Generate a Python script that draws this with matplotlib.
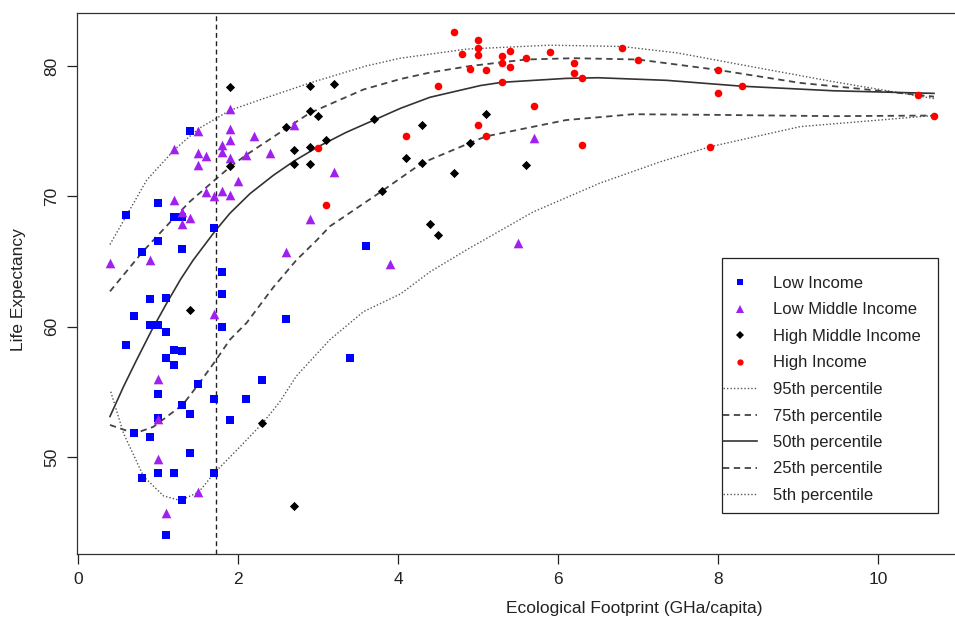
import matplotlib
matplotlib.use("Agg")
import matplotlib.pyplot as plt
from matplotlib.lines import Line2D
from matplotlib.patches import Rectangle

plt.rcParams['font.family'] = ['Liberation Sans', 'DejaVu Sans']

# ---------------- data ----------------
low_x = [1.4, 0.6, 1.0, 1.2, 1.3, 1.7, 1.0, 0.8, 1.3, 1.8, 1.8, 0.9, 1.1, 0.7, 0.9, 1.0,
         1.1, 1.8, 0.6, 1.2, 1.3, 1.1, 1.2, 2.3, 1.5, 1.0, 1.7, 2.1, 1.3, 1.4, 1.9, 1.0,
         0.7, 0.9, 1.4, 0.8, 1.0, 1.2, 1.7, 1.3, 1.1, 3.6, 2.6, 3.4]
low_y = [75.0, 68.6, 69.5, 68.4, 68.4, 67.6, 66.6, 65.75, 65.95, 64.2, 62.5, 62.1, 62.2,
         60.8, 60.1, 60.1, 59.6, 60.0, 58.6, 58.2, 58.1, 57.6, 57.05, 55.9, 55.6, 54.8,
         54.45, 54.45, 54.0, 53.3, 52.85, 53.0, 51.8, 51.55, 50.3, 48.4, 48.8, 48.8, 48.8,
         46.7, 44.0, 66.2, 60.6, 57.6]

lowmid_x = [1.9, 1.5, 1.9, 1.9, 1.8, 2.2, 1.2, 1.5, 1.6, 1.8, 1.9, 2.1, 2.4, 1.5, 2.0,
            1.6, 1.7, 1.8, 1.9, 1.2, 1.3, 1.4, 1.3, 0.4, 0.9, 1.7, 1.0, 1.0, 1.0, 1.5,
            1.1, 2.7, 3.2, 2.9, 2.6, 3.9, 5.7, 5.5]
lowmid_y = [76.7, 75.0, 75.2, 74.3, 73.9, 74.6, 73.6, 73.35, 73.1, 73.4, 72.95, 73.2,
            73.35, 72.4, 71.2, 70.35, 70.0, 70.4, 70.1, 69.7, 68.8, 68.3, 67.9, 64.85,
            65.1, 61.0, 56.0, 52.9, 49.8, 47.3, 45.7, 75.5, 71.85, 68.25, 65.7, 64.8,
            74.5, 66.4]

highmid_x = [1.9, 1.4, 1.9, 2.9, 3.2, 2.9, 3.0, 2.6, 3.7, 4.3, 3.1, 2.7, 2.9, 4.1, 4.3,
             2.7, 2.9, 4.9, 4.7, 3.8, 4.4, 4.5, 2.3, 2.7, 5.1, 5.6]
highmid_y = [72.3, 61.3, 78.4, 78.5, 78.6, 76.55, 76.2, 75.3, 75.9, 75.5, 74.3, 73.55,
             73.8, 72.95, 72.55, 72.5, 72.5, 74.1, 71.8, 70.4, 67.85, 67.0, 52.6, 46.2,
             76.3, 72.4]

high_x = [4.9, 4.5, 5.0, 4.1, 3.0, 3.1, 4.7, 5.0, 5.0, 5.0, 4.8, 5.3, 5.4, 5.6, 5.9,
          6.8, 7.0, 5.1, 5.3, 5.4, 6.2, 6.2, 6.3, 5.3, 5.7, 5.1, 6.3, 8.0, 8.0, 8.3,
          10.5, 10.7, 7.9]
high_y = [79.8, 78.5, 75.5, 74.65, 73.7, 69.3, 82.6, 81.97, 81.4, 80.85, 80.9, 80.8,
          81.15, 80.6, 81.1, 81.4, 80.5, 79.7, 80.2, 79.9, 80.2, 79.5, 79.1, 78.75,
          76.95, 74.6, 73.95, 79.7, 77.9, 78.45, 77.8, 76.2, 73.8]

# percentile curves
q95_x = [0.4, 0.86, 1.21, 1.51, 1.9, 2.32, 2.9, 3.6, 4.03, 4.86, 5.9, 6.8, 7.5, 8.2, 9.44, 10.7]
q95_y = [66.3, 71.25, 73.6, 75.2, 76.6, 77.5, 78.7, 80.0, 80.6, 81.3, 81.6, 81.5, 81.0, 80.2, 78.8, 77.5]

q75_x = [0.4, 0.81, 1.21, 1.4, 1.71, 1.91, 2.11, 2.6, 2.9, 3.57, 4.03, 4.4, 4.9, 5.6, 6.2, 7.0, 8.0, 9.03, 9.86, 10.7]
q75_y = [62.7, 65.75, 68.4, 69.6, 71.25, 72.3, 73.2, 75.2, 76.4, 78.2, 79.0, 79.5, 80.0, 80.5, 80.6, 80.5, 79.7, 78.7, 78.2, 77.65]

q50_x = [0.4, 0.57, 0.73, 0.92, 1.11, 1.28, 1.44, 1.71, 1.9, 2.15, 2.44, 2.7, 3.0, 3.35, 3.7, 4.03, 4.4, 5.03, 5.3, 6.1, 6.5, 7.36, 8.3, 9.44, 10.7]
q50_y = [53.1, 55.4, 57.4, 59.7, 61.8, 63.6, 65.1, 67.3, 68.7, 70.2, 71.6, 72.7, 73.8, 74.9, 75.85, 76.75, 77.6, 78.5, 78.75, 79.05, 79.1, 78.9, 78.45, 78.1, 77.9]

q25_x = [0.4, 0.71, 0.94, 1.31, 1.51, 1.71, 1.9, 2.11, 2.44, 2.73, 2.98, 3.15, 3.8, 4.3, 4.9, 5.1, 6.1, 6.94, 7.98, 9.44, 10.7]
q25_y = [52.45, 51.8, 52.3, 54.0, 55.6, 57.3, 59.0, 60.3, 63.0, 65.1, 66.6, 67.7, 70.4, 72.55, 74.1, 74.6, 75.85, 76.3, 76.25, 76.15, 76.2]

q5_x = [0.41, 0.57, 0.82, 1.07, 1.28, 1.51, 1.71, 2.03, 2.31, 2.52, 2.73, 3.15, 3.57, 4.03, 4.4, 4.86, 5.69, 6.52, 7.28, 7.9, 9.03, 10.7]
q5_y = [55.0, 51.8, 48.5, 47.0, 46.65, 47.3, 48.8, 50.8, 52.6, 54.2, 56.2, 59.0, 61.15, 62.5, 64.2, 65.9, 68.8, 71.0, 72.65, 73.8, 75.35, 76.2]

median_footprint = 1.72

x_ticks = [0, 2, 4, 6, 8, 10]
y_ticks = [50, 60, 70, 80]

# ---------------- figure ----------------
W, H = 955, 623
fig = plt.figure(figsize=(W / 100, H / 100), dpi=100)
x0, x1 = -0.012, 11.112
y0, y1 = 42.56, 84.1
left_px, top_px, bot_px = 77.0, 12.6, 553.8
ax = fig.add_axes([left_px / W, 1 - bot_px / H, (x1 - x0) * 80 / W, (bot_px - top_px) / H])
ax.set_xlim(x0, x1)
ax.set_ylim(y0, y1)

ax.scatter(low_x, low_y, marker='s', s=34, color='#0000FF', linewidths=0, zorder=3)
ax.scatter(lowmid_x, lowmid_y, marker='^', s=48, color='#A020F0', linewidths=0, zorder=3)
ax.scatter(highmid_x, highmid_y, marker='D', s=22, color='black', linewidths=0, zorder=3)
ax.scatter(high_x, high_y, marker='o', s=30, color='#FF0000', linewidths=0, zorder=3)

curve_col = '#555555'
dot_ls = (0, (1, 1.5))
dash_ls = (0, (3.5, 2.5))
ax.plot(q95_x, q95_y, color=curve_col, lw=1.0, ls=dot_ls)
ax.plot(q75_x, q75_y, color='#444444', lw=1.3, ls=dash_ls)
ax.plot(q50_x, q50_y, color='#333333', lw=1.2, ls='-')
ax.plot(q25_x, q25_y, color='#444444', lw=1.3, ls=dash_ls)
ax.plot(q5_x, q5_y, color=curve_col, lw=1.0, ls=dot_ls)

ax.axvline(median_footprint, color='#222222', lw=1.0, ls=dash_ls)

ax.set_xticks(x_ticks)
ax.set_yticks(y_ticks)
ax.tick_params(direction='out', length=7, width=0.9, labelsize=12.5, colors='#222222', pad=6)
for lab in ax.get_yticklabels():
    lab.set_rotation(90)
    lab.set_va('center')
for sp in ax.spines.values():
    sp.set_color('#333333')
    sp.set_linewidth(0.9)

fig.text(634 / W, 1 - 608 / H, 'Ecological Footprint (GHa/capita)', ha='center', va='center',
         fontsize=12.5, color='#222222')
fig.text(18 / W, 1 - 290 / H, 'Life Expectancy', ha='center', va='center', rotation=90,
         fontsize=12.5, color='#222222')

handles = [
    Line2D([], [], ls='none', marker='s', ms=5, color='#0000FF', mew=0),
    Line2D([], [], ls='none', marker='^', ms=6, color='#A020F0', mew=0),
    Line2D([], [], ls='none', marker='D', ms=4, color='black', mew=0),
    Line2D([], [], ls='none', marker='o', ms=4.5, color='#FF0000', mew=0),
    Line2D([], [], color=curve_col, lw=1.0, ls=dot_ls),
    Line2D([], [], color='#444444', lw=1.3, ls=dash_ls),
    Line2D([], [], color='#333333', lw=1.2, ls='-'),
    Line2D([], [], color='#444444', lw=1.3, ls=dash_ls),
    Line2D([], [], color=curve_col, lw=1.0, ls=dot_ls),
]
labels = ['Low Income', 'Low Middle Income', 'High Middle Income', 'High Income',
          '95th percentile', '75th percentile', '50th percentile', '25th percentile',
          '5th percentile']
leg = fig.legend(handles, labels, loc='upper left', bbox_to_anchor=(723 / W, 1 - 276 / H),
                 frameon=False, fontsize=12, handlelength=2.05, handletextpad=0.95,
                 labelspacing=0.69, borderpad=0, borderaxespad=0)
for t in leg.get_texts():
    t.set_color('#222222')

fig.patches.append(Rectangle((722 / W, 1 - 513 / H), (938 - 722) / W, (513 - 258) / H,
                             transform=fig.transFigure, fill=True, facecolor='none',
                             edgecolor='#222222', lw=0.9, zorder=5))

fig.savefig('out.png', dpi=100)
